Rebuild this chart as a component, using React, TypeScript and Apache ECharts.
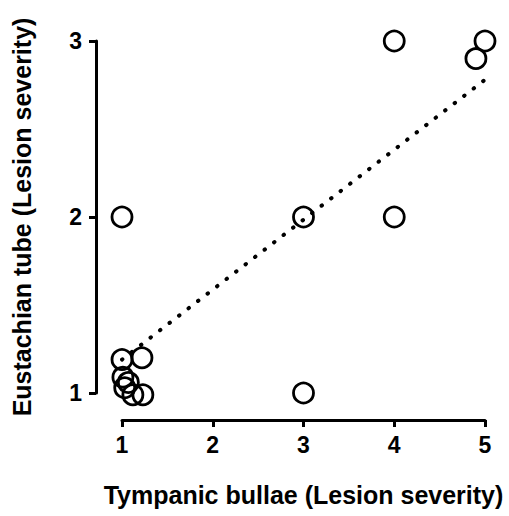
import React, { useEffect, useRef } from "react";
import * as echarts from "echarts";

const xTicks = [1, 2, 3, 4, 5];
const yTicks = [1, 2, 3];
const tympanicBullae = [1, 1, 1.22, 1.01, 1.07, 1.03, 1.12, 1.23, 3, 3, 4, 4, 5, 4.9];
const eustachianTube = [2, 1.19, 1.2, 1.09, 1.06, 1.03, 0.99, 0.99, 2, 1, 3, 2, 3, 2.9];
const fitX = [1, 5];
const fitY = [1.19, 2.78];

const FONT = "Liberation Sans";

export default function App() {
  const ref = useRef<HTMLDivElement>(null);
  useEffect(() => {
    if (!ref.current) return;
    const chart = echarts.init(ref.current, null, { renderer: "svg" });
    const points = tympanicBullae.map((x, i) => [x, eustachianTube[i]]);
    const fit = fitX.map((x, i) => [x, fitY[i]]);
    const axisCommon = {
      axisLine: { show: true, lineStyle: { color: "#000", width: 3 } },
      axisTick: { show: true, inside: false, length: 7, lineStyle: { color: "#000", width: 3 } },
      splitLine: { show: false },
      nameLocation: "middle" as const,
      nameTextStyle: { fontFamily: FONT, fontWeight: "bold" as const, fontSize: 25, color: "#000" },
    };
    chart.setOption({
      animation: false,
      grid: { left: 122, right: 24, top: 41, bottom: 123, containLabel: false },
      xAxis: {
        type: "value",
        min: 1,
        max: 5,
        interval: 1,
        offset: 27,
        name: "Tympanic bullae (Lesion severity)",
        nameGap: 62,
        ...axisCommon,
        axisLabel: {
          margin: 13,
          fontFamily: FONT,
          fontWeight: "bold",
          fontSize: 23,
          color: "#000",
          formatter: (v: number) => (xTicks.includes(v) ? String(v) : ""),
        },
      },
      yAxis: {
        type: "value",
        min: 1,
        max: 3,
        interval: 1,
        offset: 26,
        name: "Eustachian tube (Lesion severity)",
        nameGap: 62,
        ...axisCommon,
        axisLabel: {
          margin: 14,
          fontFamily: FONT,
          fontWeight: "bold",
          fontSize: 23,
          color: "#000",
          formatter: (v: number) => (yTicks.includes(v) ? String(v) : ""),
        },
      },
      series: [
        {
          type: "line",
          data: fit,
          showSymbol: false,
          symbol: "none",
          lineStyle: { color: "#000", width: 4, type: [0.5, 11.5], cap: "round" },
          z: 1,
        },
        {
          type: "scatter",
          data: points,
          clip: false,
          symbol: "circle",
          symbolSize: 20,
          itemStyle: { color: "rgba(255,255,255,0)", borderColor: "#000", borderWidth: 2.8, opacity: 1 },
          z: 2,
        },
      ],
    });
    return () => chart.dispose();
  }, []);
  return <div ref={ref} style={{ width: 509, height: 516, position: "absolute", left: 0, top: 0, background: "#fff" }} />;
}
